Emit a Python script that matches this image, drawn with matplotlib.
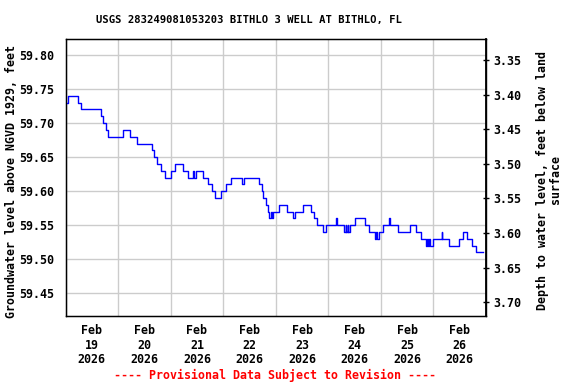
import matplotlib
matplotlib.use("Agg")
import matplotlib.pyplot as plt
import pandas as pd

# step changes of the water level: hours after Feb 19 00:00 and level (ft, NGVD 1929)
hours = [0.0, 1.25, 5.5, 7.2, 16.35, 17.26, 18.63, 19.54, 26.39, 29.59,
         32.78, 39.63, 40.55, 41.92, 43.61, 45.43, 48.17, 50.0, 53.52, 56.07,
         58.36, 58.9, 59.4, 62.92, 64.93, 66.76, 68.04, 70.87, 73.15, 75.57,
         80.46, 81.42, 88.49, 89.73, 90.32, 91.32, 92.24, 93.06, 93.93, 94.3,
         94.89, 97.63, 101.0, 103.74, 104.93, 108.31, 112.24, 113.6, 114.98, 117.72,
         118.95, 123.38, 123.74, 127.17, 127.85, 128.1, 128.8, 129.0, 129.9, 132.33,
         136.62, 138.45, 141.19, 142.0, 142.3, 143.0, 145.11, 147.7, 148.0, 151.69,
         157.31, 160.05, 162.19, 164.61, 165.1, 165.4, 166.0, 166.3, 167.94, 171.78,
         172.05, 175.25, 179.82, 181.64, 183.19, 185.75, 187.44, 190.5]
level = [59.73, 59.74, 59.73, 59.72, 59.71, 59.70, 59.69, 59.68, 59.69, 59.68,
         59.67, 59.66, 59.65, 59.64, 59.63, 59.62, 59.63, 59.64, 59.63, 59.62,
         59.63, 59.62, 59.63, 59.62, 59.61, 59.60, 59.59, 59.60, 59.61, 59.62,
         59.61, 59.62, 59.61, 59.60, 59.59, 59.58, 59.57, 59.56, 59.57, 59.56,
         59.57, 59.58, 59.57, 59.56, 59.57, 59.58, 59.57, 59.56, 59.55, 59.54,
         59.55, 59.56, 59.55, 59.54, 59.55, 59.54, 59.55, 59.54, 59.55, 59.56,
         59.55, 59.54, 59.53, 59.54, 59.53, 59.54, 59.55, 59.56, 59.55, 59.54,
         59.55, 59.54, 59.53, 59.52, 59.53, 59.52, 59.53, 59.52, 59.53, 59.54,
         59.53, 59.52, 59.53, 59.54, 59.53, 59.52, 59.51, 59.51]

left_ticks = [59.45, 59.50, 59.55, 59.60, 59.65, 59.70, 59.75, 59.80]
right_ticks = [3.35, 3.40, 3.45, 3.50, 3.55, 3.60, 3.65, 3.70]
day_labels = ["Feb\n19\n2026", "Feb\n20\n2026", "Feb\n21\n2026", "Feb\n22\n2026",
              "Feb\n23\n2026", "Feb\n24\n2026", "Feb\n25\n2026", "Feb\n26\n2026"]

plt.rcParams['font.family'] = 'DejaVu Sans Mono'
plt.rcParams['font.weight'] = 'bold'

start = pd.Timestamp("2026-02-19")
times = [start + pd.Timedelta(hours=h) for h in hours]

fig = plt.figure(figsize=(5.76, 3.84), dpi=100)
ax = fig.add_axes([65.5/576, 68/384, 420.5/576, 277/384])

ax.plot(times, level, color='#0000ff', lw=1.0, drawstyle='steps-post', zorder=3)

ax.set_xlim(start, start + pd.Timedelta(days=8))
ax.set_ylim(59.4167, 59.8235)

noon = [start + pd.Timedelta(days=i, hours=12) for i in range(8)]
ax.set_xticks(noon)
ax.set_xticklabels(day_labels, fontsize=8.4, fontweight='bold', linespacing=1.15)
ax.set_xticks([start + pd.Timedelta(days=i) for i in range(9)], minor=True)
ax.tick_params(axis='x', which='both', length=0, pad=6)

ax.set_yticks(left_ticks)
ax.set_yticklabels([f"{v:.2f}" for v in left_ticks], fontsize=8.4, fontweight='bold')
ax.tick_params(axis='y', length=0, pad=8)

ax.grid(True, which='minor', axis='x', color='#cccccc', lw=1.0)
ax.grid(True, which='major', axis='y', color='#cccccc', lw=1.0)
for s in ax.spines.values():
    s.set_linewidth(1.0)

ax2 = ax.twinx()
ax2.set_ylim(3.7198, 3.3197)
ax2.set_yticks(right_ticks)
ax2.set_yticklabels([f"{v:.2f}" for v in right_ticks], fontsize=8.4, fontweight='bold')
ax2.tick_params(axis='y', direction='inout', length=5, width=1.0, pad=3)
ax2.spines['right'].set_linewidth(1.3)

fig.text(249/576, 1 - 20/384, "USGS 283249081053203 BITHLO 3 WELL AT BITHLO, FL",
         ha='center', va='center', fontsize=7.6, fontweight='bold')
fig.text(12/576, 1 - 181/384, "Groundwater level above NGVD 1929, feet",
         rotation=90, ha='center', va='center', fontsize=8.4, fontweight='bold')
fig.text(549/576, 1 - 180/384, "Depth to water level, feet below land\nsurface",
         rotation=90, ha='center', va='center', multialignment='center',
         fontsize=8.4, fontweight='bold', linespacing=1.0)
fig.text(275/576, 1 - 375/384, "---- Provisional Data Subject to Revision ----",
         ha='center', va='center', fontsize=8.4, fontweight='bold', color='#ff0000')

fig.savefig("out.png", dpi=100)
